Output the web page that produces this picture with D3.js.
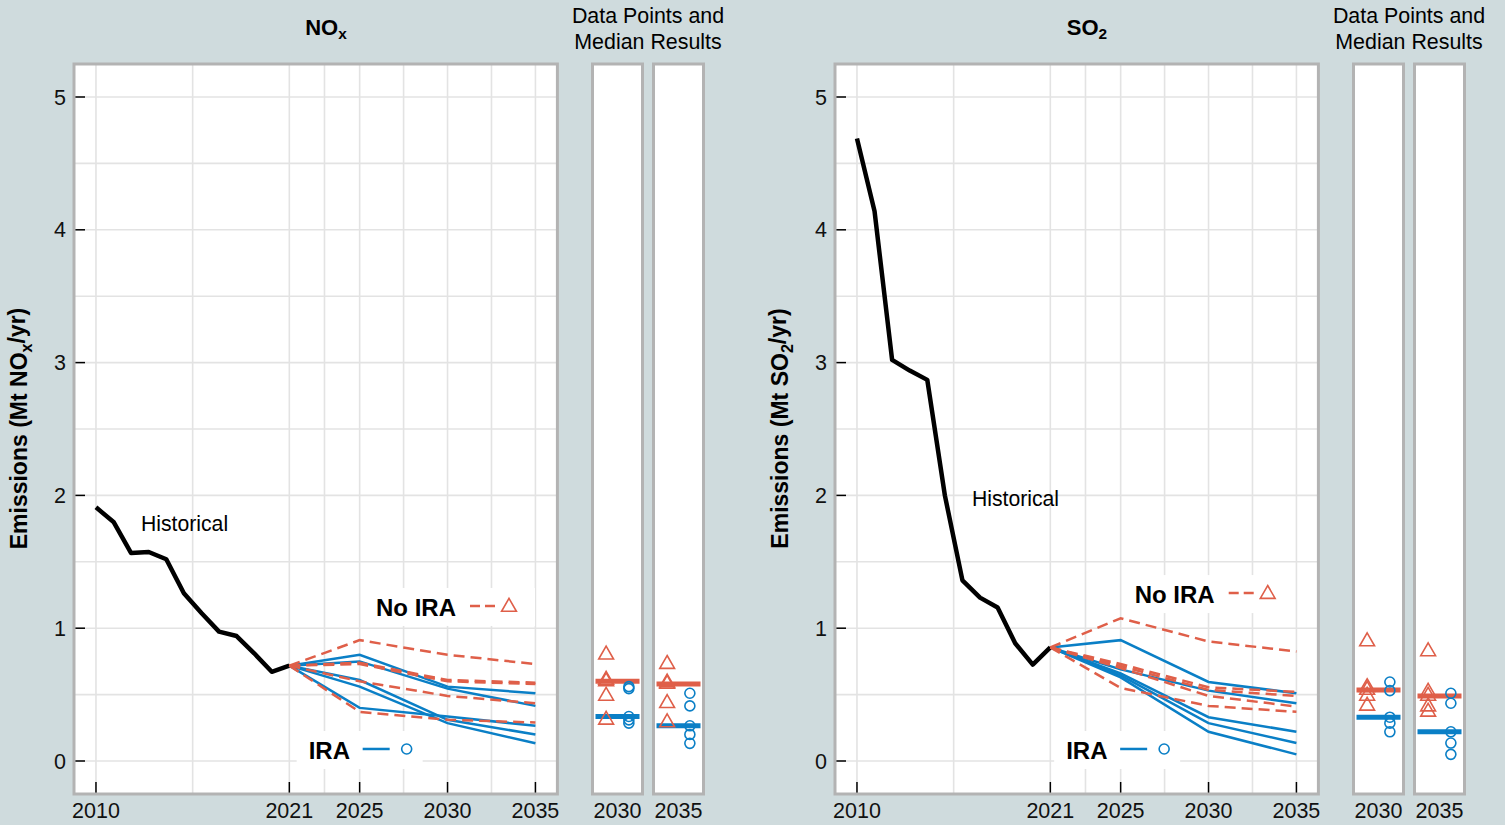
<!DOCTYPE html>
<html>
<head>
<meta charset="utf-8">
<style>
body { margin: 0; background: #cfdbdd; }
svg { display: block; font-family: "Liberation Sans", Arial, sans-serif; }
.grid line { stroke: #e3e3e3; stroke-width: 1.6px; }
.frame { fill: none; stroke: #b3b3b3; stroke-width: 3px; }
.tickmark { stroke: #000; stroke-width: 1.5px; }
.ticklabel { font-size: 21.5px; fill: #111; }
.hist { fill: none; stroke: #000; stroke-width: 4.5px; stroke-linejoin: round; }
.ira { fill: none; stroke: #0a7fc6; stroke-width: 2.5px; }
.noira { fill: none; stroke: #df5f49; stroke-width: 2.5px; stroke-dasharray: 11,6; }
</style>
</head>
<body>
<script src="https://cdnjs.cloudflare.com/ajax/libs/d3/7.8.5/d3.min.js"></script>
<script>
    /* global d3 */

    // historical emissions, Mt/yr
    var histYears = [2010, 2011, 2012, 2013, 2014, 2015, 2016, 2017, 2018, 2019, 2020, 2021];
    var noxHist = [1.91, 1.80, 1.566, 1.574, 1.519, 1.263, 1.114, 0.974, 0.941, 0.811, 0.672, 0.718];
    var so2Hist = [4.687, 4.14, 3.02, 2.94, 2.87, 2.0, 1.36, 1.23, 1.156, 0.887, 0.726, 0.855];

    // projections (values for 2025, 2030, 2035; 2021 is the last historical point)
    var projYears = [2021, 2025, 2030, 2035];
    var noxNoIRA = [[0.91, 0.80, 0.73], [0.74, 0.61, 0.59], [0.73, 0.60, 0.58], [0.60, 0.49, 0.435], [0.37, 0.31, 0.29]];
    var noxIRA = [[0.80, 0.56, 0.51], [0.75, 0.545, 0.415], [0.61, 0.31, 0.20], [0.56, 0.285, 0.133], [0.40, 0.335, 0.265]];
    var so2NoIRA = [[1.075, 0.90, 0.825], [0.73, 0.555, 0.52], [0.715, 0.535, 0.49], [0.70, 0.49, 0.41], [0.55, 0.415, 0.37]];
    var so2IRA = [[0.91, 0.595, 0.51], [0.69, 0.53, 0.435], [0.66, 0.33, 0.22], [0.645, 0.285, 0.135], [0.63, 0.22, 0.05]];

    var yTicks = [0, 1, 2, 3, 4, 5];
    var yGrid = [0, 0.5, 1, 1.5, 2, 2.5, 3, 3.5, 4, 4.5, 5];
    var xTicks = [2010, 2021, 2025, 2030, 2035];
    var xGrid = [2010, 2015.5, 2021, 2023, 2025, 2027.5, 2030, 2032.5, 2035];
    var sideYears = [2030, 2035];

    var red = "#df5f49", blue = "#0a7fc6";

    var svg = d3.select("body").append("svg")
        .attr("width", 1505)
        .attr("height", 825);

    svg.append("rect").attr("width", 1505).attr("height", 825).attr("fill", "#cfdbdd");

    var panels = [
      { dx: 0, name: "NO", sub: "x", hist: noxHist, noira: noxNoIRA, ira: noxIRA,
        histLabel: [2012.56, 1.785], noLeg: [2025.93, 1.16], iraLeg: [2022.1, 0.083] },
      { dx: 761, name: "SO", sub: "2", hist: so2Hist, noira: so2NoIRA, ira: so2IRA,
        histLabel: [2016.54, 1.98], noLeg: [2025.8, 1.257], iraLeg: [2021.9, 0.083] }
    ];

    function subText(sel, main, sub, before, after) {
      sel.append("tspan").text(before + main);
      sel.append("tspan").text(sub).attr("font-size", "0.7em").attr("dy", "0.28em");
      if (after) sel.append("tspan").text(after).attr("dy", "-0.28em");
    }

    var triSize = 95, cirR = 5;

    panels.forEach(function(p) {
      var g = svg.append("g").attr("transform", "translate(" + p.dx + ",0)");

      var x = d3.scaleLinear().domain([2008.75, 2036.25]).range([74, 557.4]);
      var y = d3.scaleLinear().domain([-0.25, 5.25]).range([794.2, 63.8]);

      // panel background + grid
      g.append("rect").attr("x", 74).attr("y", 64).attr("width", 483.4).attr("height", 730).attr("fill", "#fff");
      var grid = g.append("g").attr("class", "grid");
      grid.selectAll(".gx").data(xGrid).enter().append("line")
          .attr("x1", function(d) { return x(d); }).attr("x2", function(d) { return x(d); })
          .attr("y1", 64).attr("y2", 794);
      grid.selectAll(".gy").data(yGrid).enter().append("line")
          .attr("x1", 74).attr("x2", 557.4)
          .attr("y1", function(d) { return y(d); }).attr("y2", function(d) { return y(d); });

      // ticks (inside)
      g.selectAll(".ty").data(yTicks).enter().append("line").attr("class", "tickmark")
          .attr("x1", 74).attr("x2", 85)
          .attr("y1", function(d) { return y(d); }).attr("y2", function(d) { return y(d); });
      g.selectAll(".tx").data(xTicks).enter().append("line").attr("class", "tickmark")
          .attr("x1", function(d) { return x(d); }).attr("x2", function(d) { return x(d); })
          .attr("y1", 782).attr("y2", 794);
      g.selectAll(".ly").data(yTicks).enter().append("text").attr("class", "ticklabel")
          .attr("x", 66).attr("y", function(d) { return y(d) + 7.5; })
          .attr("text-anchor", "end").text(function(d) { return d; });
      g.selectAll(".lx").data(xTicks).enter().append("text").attr("class", "ticklabel")
          .attr("x", function(d) { return x(d); }).attr("y", 818)
          .attr("text-anchor", "middle").text(function(d) { return d; });

      // lines
      var line = d3.line().x(function(d) { return x(d[0]); }).y(function(d) { return y(d[1]); });
      var start = p.hist[p.hist.length - 1];
      function proj(vals) { return projYears.map(function(yr, i) { return [yr, i === 0 ? start : vals[i - 1]]; }); }

      g.append("path").attr("class", "hist")
          .attr("d", line(histYears.map(function(yr, i) { return [yr, p.hist[i]]; })));
      g.selectAll(".ira").data(p.ira).enter().append("path").attr("class", "ira")
          .attr("d", function(d) { return line(proj(d)); });
      g.selectAll(".noira").data(p.noira).enter().append("path").attr("class", "noira")
          .attr("d", function(d) { return line(proj(d)); });

      g.append("text").attr("x", x(p.histLabel[0])).attr("y", y(p.histLabel[1]) + 7.5)
          .attr("font-size", 21.2).text("Historical");

      // legends
      var lx = x(p.noLeg[0]), ly = y(p.noLeg[1]);
      g.append("rect").attr("x", lx - 10).attr("y", ly - 19).attr("width", 169).attr("height", 38).attr("fill", "#fff");
      g.append("text").attr("x", lx).attr("y", ly + 8.6).attr("font-size", 24).attr("font-weight", "bold").text("No IRA");
      g.append("line").attr("class", "noira").attr("x1", lx + 94).attr("x2", lx + 120).attr("y1", ly - 1).attr("y2", ly - 1)
          .style("stroke-dasharray", "10,5");
      g.append("path").attr("d", d3.symbol(d3.symbolTriangle, triSize)())
          .attr("transform", "translate(" + (lx + 133) + "," + (ly) + ")")
          .attr("fill", "none").attr("stroke", red).attr("stroke-width", 1.6);

      var ix = x(p.iraLeg[0]), iy = y(p.iraLeg[1]);
      g.append("rect").attr("x", ix - 12).attr("y", iy - 19).attr("width", 126).attr("height", 38).attr("fill", "#fff");
      g.append("text").attr("x", ix).attr("y", iy + 8.6).attr("font-size", 24).attr("font-weight", "bold").text("IRA");
      g.append("line").attr("class", "ira").attr("x1", ix + 54).attr("x2", ix + 81).attr("y1", iy - 1).attr("y2", iy - 1);
      g.append("circle").attr("cx", ix + 98).attr("cy", iy - 1).attr("r", cirR)
          .attr("fill", "none").attr("stroke", blue).attr("stroke-width", 1.6);

      g.append("rect").attr("class", "frame").attr("x", 74).attr("y", 64).attr("width", 483.4).attr("height", 730);

      // side panels: data points and medians
      sideYears.forEach(function(yr, k) {
        var left = 592.5 + k * 61, w = 50;
        var idx = projYears.indexOf(yr) - 1;
        var sx = d3.scalePoint().domain(["No IRA", "IRA"]).range([left, left + w]).padding(0.6);
        var sg = g.append("g");
        sg.append("rect").attr("x", left).attr("y", 64).attr("width", w).attr("height", 730).attr("fill", "#fff");

        var noVals = p.noira.map(function(d) { return d[idx]; });
        var irVals = p.ira.map(function(d) { return d[idx]; });

        sg.append("line").attr("x1", left + 3).attr("x2", left + w - 3)
            .attr("y1", y(d3.median(noVals))).attr("y2", y(d3.median(noVals)))
            .attr("stroke", red).attr("stroke-width", 5);
        sg.append("line").attr("x1", left + 3).attr("x2", left + w - 3)
            .attr("y1", y(d3.median(irVals))).attr("y2", y(d3.median(irVals)))
            .attr("stroke", blue).attr("stroke-width", 5);

        sg.selectAll(".tri").data(noVals).enter().append("path")
            .attr("d", d3.symbol(d3.symbolTriangle, triSize)())
            .attr("transform", function(d) { return "translate(" + sx("No IRA") + "," + y(d) + ")"; })
            .attr("fill", "none").attr("stroke", red).attr("stroke-width", 1.6);
        sg.selectAll(".cir").data(irVals).enter().append("circle")
            .attr("cx", sx("IRA")).attr("cy", function(d) { return y(d); }).attr("r", cirR)
            .attr("fill", "none").attr("stroke", blue).attr("stroke-width", 1.6);

        sg.append("rect").attr("class", "frame").attr("x", left).attr("y", 64).attr("width", w).attr("height", 730);
        sg.append("text").attr("class", "ticklabel").attr("x", left + w / 2).attr("y", 818)
            .attr("text-anchor", "middle").text(yr);
      });

      // titles
      var t = g.append("text").attr("x", 326).attr("y", 35).attr("text-anchor", "middle")
          .attr("font-size", 22).attr("font-weight", "bold");
      subText(t, p.name, p.sub, "", "");

      g.append("text").attr("x", 648).attr("y", 23).attr("text-anchor", "middle").attr("font-size", 21.4)
          .text("Data Points and");
      g.append("text").attr("x", 648).attr("y", 49).attr("text-anchor", "middle").attr("font-size", 21.4)
          .text("Median Results");

      var at = g.append("text").attr("transform", "translate(27,428.5) rotate(-90)")
          .attr("text-anchor", "middle").attr("font-size", 23).attr("font-weight", "bold");
      subText(at, p.name, p.sub, "Emissions (Mt ", "/yr)");
    });
</script>
</body>
</html>
